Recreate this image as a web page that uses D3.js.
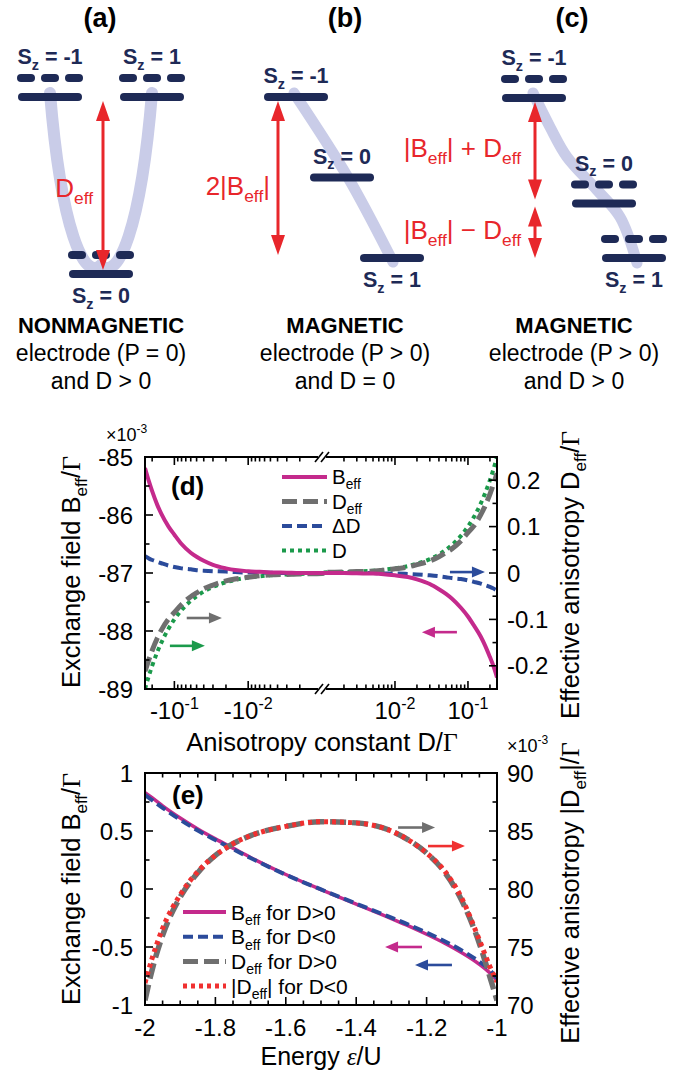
<!DOCTYPE html>
<html>
<head>
<meta charset="utf-8">
<script src="https://cdn.jsdelivr.net/npm/d3@7"></script>
<style>
  body { margin: 0; background: #fff; }
  svg { font-family: "Liberation Sans", Arial, Helvetica, sans-serif; }
</style>
</head>
<body>
<div id="fig"></div>
<script>
// ---------- schematic levels (energies in units of |B_eff|) ----------
const levelsA = [{ sz: -1, E: 1, split: true }, { sz: 1, E: 1, split: true }, { sz: 0, E: 0, split: true }];
const levelsB = [{ sz: -1, E: 2, split: false }, { sz: 0, E: 1, split: false }, { sz: 1, E: 0, split: false }];
const levelsC = [{ sz: -1, E: 2, split: true }, { sz: 0, E: 0.68, split: true }, { sz: 1, E: 0, split: true }];
const captionA = ['NONMAGNETIC', 'electrode (P = 0)', 'and D > 0'];
const captionB = ['MAGNETIC', 'electrode (P > 0)', 'and D = 0'];
const captionC = ['MAGNETIC', 'electrode (P > 0)', 'and D > 0'];

// ---------- panel (d): vs anisotropy constant D/Gamma ----------
const dAbs = [0.25, 0.22, 0.2, 0.17, 0.15, 0.12, 0.1, 0.08, 0.06, 0.05, 0.04, 0.03, 0.02, 0.015, 0.01, 0.007, 0.005, 0.003, 0.002, 0.001];
// D < 0 branch (left half), order of dAbs
const bEffNeg = [-85.19, -85.43, -85.59, -85.83, -85.98, -86.20, -86.34, -86.50, -86.65, -86.72, -86.79, -86.86, -86.92, -86.95, -86.97, -86.98, -86.99, -86.995, -87, -87];
const dEffNeg = [-0.212, -0.185, -0.167, -0.140, -0.123, -0.099, -0.085, -0.068, -0.051, -0.043, -0.034, -0.026, -0.017, -0.013, -0.009, -0.006, -0.004, -0.003, -0.002, -0.001];
const deltaDNeg = [0.036, 0.031, 0.028, 0.024, 0.021, 0.016, 0.013, 0.010, 0.008, 0.006, 0.005, 0.004, 0.003, 0.002, 0.001, 0.001, 0.0005, 0, 0, 0];
// D > 0 branch (right half), order of dAbs
const bEffPos = [-88.80, -88.58, -88.45, -88.24, -88.10, -87.90, -87.75, -87.60, -87.44, -87.36, -87.28, -87.19, -87.11, -87.07, -87.04, -87.02, -87.01, -87.005, -87, -87];
const dEffPos = [0.215, 0.188, 0.170, 0.143, 0.126, 0.101, 0.087, 0.069, 0.052, 0.044, 0.035, 0.026, 0.018, 0.013, 0.009, 0.006, 0.004, 0.003, 0.002, 0.001];
const deltaDPos = [-0.038, -0.033, -0.030, -0.026, -0.023, -0.019, -0.016, -0.013, -0.011, -0.009, -0.007, -0.005, -0.003, -0.002, -0.001, -0.001, 0, 0, 0, 0];
const xTickExpD = [-1, -2];          // decades labelled on each side
const yTicksLeftD = [-89, -88, -87, -86, -85];
const yTicksRightD = [-0.2, -0.1, 0, 0.1, 0.2];

// ---------- panel (e): vs energy eps/U ----------
const eps = [-2, -1.98, -1.95, -1.9, -1.85, -1.8, -1.75, -1.7, -1.6, -1.5, -1.4, -1.3, -1.25, -1.2, -1.15, -1.1, -1.05, -1.02, -1];
const bEffDpos = [0.83, 0.787, 0.717, 0.612, 0.517, 0.432, 0.352, 0.272, 0.125, -0.005, -0.13, -0.255, -0.32, -0.39, -0.465, -0.55, -0.65, -0.725, -0.79];
const bEffDneg = [0.81, 0.767, 0.700, 0.597, 0.504, 0.422, 0.344, 0.267, 0.123, -0.004, -0.126, -0.247, -0.309, -0.376, -0.448, -0.53, -0.627, -0.70, -0.77];
const dEffDpos = [70.4, 73.0, 76.0, 79.3, 81.4, 82.9, 83.9, 84.6, 85.4, 85.8, 85.7, 85.0, 84.2, 83.1, 81.5, 79.0, 75.3, 72.4, 70.4];   // x1e-3
const absDeffDneg = [71.9, 74.0, 76.6, 79.5, 81.5, 82.9, 83.9, 84.6, 85.4, 85.8, 85.7, 85.0, 84.2, 83.1, 81.6, 79.2, 75.6, 73.3, 72.0];
const xTicksE = [-2, -1.8, -1.6, -1.4, -1.2, -1];
const yTicksLeftE = [-1, -0.5, 0, 0.5, 1];
const yTicksRightE = [70, 75, 80, 85, 90];

// colours
const NAVY = '#1e2a56', RED = '#e8262b', LAV = '#c9cce8';
const MAG = '#c42a8c', GRAY = '#6f6f6f', BLUE = '#2b4b9b', GREEN = '#1b9a4b', DRED = '#f03030';
const TICK_FS = 24, TITLE_FS = 25.5;

const svg = d3.select('#fig').append('svg').attr('width', 680).attr('height', 1072);

// text with sub/superscripts: parts = [[text, flags], ...]
function rich(text, parts, fs) {
  let shift = 0;
  parts.forEach(p => {
    const f = p[1] || '';
    const ts = text.append('tspan').text(p[0]);
    const target = f.includes('sub') ? fs * 0.26 : f.includes('sup') ? -fs * 0.42 : 0;
    if (target !== shift) { ts.attr('dy', target - shift); shift = target; }
    if (f.includes('sub') || f.includes('sup')) ts.attr('font-size', fs * 0.67);
    if (f.includes('serif')) ts.attr('font-family', '"Liberation Serif", "DejaVu Serif", serif');
    if (f.includes('it')) ts.attr('font-style', 'italic');
  });
  return text;
}

function addText(g, x, y, parts, fs, opts = {}) {
  const t = g.append('text').attr('x', x).attr('y', y)
    .attr('font-size', fs)
    .attr('text-anchor', opts.anchor || 'start')
    .attr('fill', opts.fill || '#000')
    .attr('font-weight', opts.bold ? 'bold' : null);
  if (opts.transform) t.attr('transform', opts.transform).attr('x', 0).attr('y', 0);
  return rich(t, parts, fs);
}

// ---------- schematics (a)-(c) ----------
function drawLevels(g, levels, xs, ys) {
  levels.forEach(l => {
    const cx = xs(l.sz), y = ys(l.E);
    g.append('line').attr('x1', cx - 28).attr('x2', cx + 28).attr('y1', y).attr('y2', y)
      .attr('stroke', NAVY).attr('stroke-width', 8).attr('stroke-linecap', 'round');
    if (l.split) {
      [-24, 0, 24].forEach(o => {
        g.append('line').attr('x1', cx + o - 5).attr('x2', cx + o + 5).attr('y1', y - 19).attr('y2', y - 19)
          .attr('stroke', NAVY).attr('stroke-width', 8).attr('stroke-linecap', 'round');
      });
    }
    const top = l.split ? y - 19 : y;
    const ly = l.E === 0 ? y + 29 : top - 14;
    const lab = l.sz === -1 ? ' = -1' : l.sz === 1 ? ' = 1' : ' = 0';
    addText(g, cx, ly, [['S'], ['z', 'sub'], [lab]], 21.5, { anchor: 'middle', bold: true, fill: NAVY });
  });
}

function vArrow(g, x, y1, y2, color) {
  const hl = 20, hw = 7;
  g.append('line').attr('x1', x).attr('x2', x).attr('y1', y1 + hl - 2).attr('y2', y2 - hl + 2)
    .attr('stroke', color).attr('stroke-width', 3);
  g.append('path').attr('d', `M${x},${y1}L${x - hw},${y1 + hl}L${x + hw},${y1 + hl}Z`).attr('fill', color);
  g.append('path').attr('d', `M${x},${y2}L${x - hw},${y2 - hl}L${x + hw},${y2 - hl}Z`).attr('fill', color);
}

function caption(g, cx, lines) {
  lines.forEach((s, i) => {
    g.append('text').attr('x', cx).attr('y', 333 + i * 28).attr('text-anchor', 'middle')
      .attr('font-size', i === 0 ? 22 : 23).attr('font-weight', i === 0 ? 'bold' : null).text(s);
  });
}

const lavLine = d3.line().curve(d3.curveCatmullRom);

// (a)
{
  const g = svg.append('g');
  const xs = d3.scaleLinear().domain([-1, 1]).range([50, 152]);
  const ys = d3.scaleLinear().domain([0, 1]).range([274, 97]);
  g.append('path').attr('d', `M${xs(-1)},${ys(1) - 4} C${xs(-0.78)},${ys(0.25)} ${xs(-0.33)},${ys(0) + 8} ${xs(0)},${ys(0) - 9} C${xs(0.33)},${ys(0) + 8} ${xs(0.78)},${ys(0.25)} ${xs(1)},${ys(1) - 4}`)
    .attr('fill', 'none').attr('stroke', LAV).attr('stroke-width', 12).attr('stroke-linecap', 'round');
  drawLevels(g, levelsA, xs, ys);
  vArrow(g, xs(0) + 2, ys(1) + 4, ys(0) - 4, RED);
  addText(g, 93, 197, [['D'], ['eff', 'sub']], 26, { anchor: 'end', fill: RED });
  addText(g, 100, 27, [['(a)']], 27, { anchor: 'middle', bold: true });
  caption(g, 101, captionA);
}
// (b)
{
  const g = svg.append('g');
  const xs = d3.scaleLinear().domain([-1, 0, 1]).range([296, 342, 392]);
  const ys = d3.scaleLinear().domain([0, 2]).range([258, 97]);
  g.append('path').attr('d', lavLine([[xs(-1) - 2, ys(2) - 4], [xs(0) + 6, ys(1)], [xs(1) + 1, ys(0) + 4]]))
    .attr('fill', 'none').attr('stroke', LAV).attr('stroke-width', 11).attr('stroke-linecap', 'round');
  drawLevels(g, levelsB, xs, ys);
  vArrow(g, 278, ys(2) + 4, ys(0) - 3, RED);
  addText(g, 270, 195, [['2|B'], ['eff', 'sub'], ['|']], 26, { anchor: 'end', fill: RED });
  addText(g, 345, 27, [['(b)']], 27, { anchor: 'middle', bold: true });
  caption(g, 345, captionB);
}
// (c)
{
  const g = svg.append('g');
  const xs = d3.scaleLinear().domain([-1, 0, 1]).range([534, 604, 634]);
  const ys = d3.scaleLinear().domain([0, 2]).range([258, 98]);
  g.append('path').attr('d', lavLine([[533, ys(2) - 5], [550, 127], [567, 157], [597, 190], [620, 217], [637, ys(0) + 5]]))
    .attr('fill', 'none').attr('stroke', LAV).attr('stroke-width', 11).attr('stroke-linecap', 'round');
  drawLevels(g, levelsC, xs, ys);
  vArrow(g, xs(-1) + 1, ys(2) + 4, ys(0.68) - 4, RED);
  vArrow(g, xs(-1) + 1, ys(0.68) + 3, ys(0), RED);
  addText(g, 521, 157, [['|B'], ['eff', 'sub'], ['| + D'], ['eff', 'sub']], 26, { anchor: 'end', fill: RED });
  addText(g, 521, 239, [['|B'], ['eff', 'sub'], ['| \u2212 D'], ['eff', 'sub']], 26, { anchor: 'end', fill: RED });
  addText(g, 572, 27, [['(c)']], 27, { anchor: 'middle', bold: true });
  caption(g, 574, captionC);
}

// ---------- helpers for plots ----------
function frame(g, b) {
  g.append('rect').attr('x', b.l).attr('y', b.t).attr('width', b.r - b.l).attr('height', b.b - b.t)
    .attr('fill', 'none').attr('stroke', '#000').attr('stroke-width', 2);
}
function yTicks(g, b, scale, vals, side, len) {
  vals.forEach(v => {
    const y = scale(v);
    const x0 = side === 'left' ? b.l : b.r;
    const x1 = side === 'left' ? b.l + len : b.r - len;
    g.append('line').attr('x1', x0).attr('x2', x1).attr('y1', y).attr('y2', y).attr('stroke', '#000').attr('stroke-width', 1.6);
  });
}
function xTicks(g, b, scale, vals, len) {
  vals.forEach(v => {
    const x = scale(v);
    [[b.t, b.t + len], [b.b, b.b - len]].forEach(([a, c]) => {
      g.append('line').attr('x1', x).attr('x2', x).attr('y1', a).attr('y2', c).attr('stroke', '#000').attr('stroke-width', 1.6);
    });
  });
}
function hArrow(g, x1, x2, y, color) {
  const dir = Math.sign(x2 - x1), hl = 13, hw = 5.5;
  g.append('line').attr('x1', x1).attr('x2', x2 - dir * (hl - 2)).attr('y1', y).attr('y2', y)
    .attr('stroke', color).attr('stroke-width', 2.6);
  g.append('path').attr('d', `M${x2},${y}L${x2 - dir * hl},${y - hw}L${x2 - dir * hl},${y + hw}Z`).attr('fill', color);
}
function series(g, pts, style) {
  g.append('path').attr('d', d3.line().curve(d3.curveMonotoneX)(pts))
    .attr('fill', 'none').attr('stroke', style.color).attr('stroke-width', style.w)
    .attr('stroke-dasharray', style.dash || null).attr('stroke-linecap', style.cap || 'butt');
}
const fmt = v => String(v);

// ---------- panel (d) ----------
{
  const b = { l: 145, r: 497, t: 457, b: 689 }, mid = 322;
  const g = svg.append('g');
  const xNeg = d3.scaleLog().domain([0.25, 0.001]).range([b.l, mid]);
  const xPos = d3.scaleLog().domain([0.001, 0.25]).range([mid, b.r]);
  const yL = d3.scaleLinear().domain([-89, -85]).range([b.b, b.t]);
  const yR = d3.scaleLinear().domain([-0.25, 0.25]).range([b.b, b.t]);

  g.append('clipPath').attr('id', 'clipD').append('rect')
    .attr('x', b.l).attr('y', b.t).attr('width', b.r - b.l).attr('height', b.b - b.t);
  const pg = g.append('g').attr('clip-path', 'url(#clipD)');

  const idx = d3.range(dAbs.length);
  const idxR = idx.slice().reverse();
  const pts = (negVals, posVals, ys) =>
    idx.map(i => [xNeg(dAbs[i]), ys(negVals[i])]).concat(idxR.map(i => [xPos(dAbs[i]), ys(posVals[i])]));
  const dSigned = [dAbs.map(v => -v), dAbs];

  series(pg, pts(dSigned[0], dSigned[1], yR), { color: GREEN, w: 4, dash: '4,4' });
  series(pg, pts(deltaDNeg, deltaDPos, yR), { color: BLUE, w: 4, dash: '10,5' });
  series(pg, pts(dEffNeg, dEffPos, yR), { color: GRAY, w: 5, dash: '15,6' });
  series(pg, pts(bEffNeg, bEffPos, yL), { color: MAG, w: 4 });

  frame(g, b);
  // log ticks
  const negT = xNeg.ticks().filter(v => v < 0.25 && v > 0.001);
  const posT = xPos.ticks().filter(v => v < 0.25 && v > 0.001);
  const isMajor = v => Math.abs(Math.log10(v) - Math.round(Math.log10(v))) < 1e-6;
  xTicks(g, b, xNeg, negT.filter(isMajor), 8);
  xTicks(g, b, xNeg, negT.filter(v => !isMajor(v)), 4.5);
  xTicks(g, b, xPos, posT.filter(isMajor), 8);
  xTicks(g, b, xPos, posT.filter(v => !isMajor(v)), 4.5);
  yTicks(g, b, yL, d3.range(-89, -84.9, 1), 'left', 8);
  yTicks(g, b, yL, d3.range(-88.5, -85, 1), 'left', 4.5);
  yTicks(g, b, yR, d3.range(-0.2, 0.21, 0.1), 'right', 8);
  yTicks(g, b, yR, [-0.25, -0.15, -0.05, 0.05, 0.15], 'right', 4.5);

  // axis break
  [b.t, b.b].forEach(y => {
    g.append('rect').attr('x', mid - 4).attr('y', y - 4).attr('width', 8).attr('height', 8).attr('fill', '#fff');
    [-3, 3].forEach(o => g.append('line').attr('x1', mid + o - 4).attr('x2', mid + o + 4)
      .attr('y1', y + 5).attr('y2', y - 5).attr('stroke', '#000').attr('stroke-width', 1.6));
  });

  // tick labels
  yTicksLeftD.forEach(v => addText(g, 133, yL(v) + 8.5, [[fmt(v)]], TICK_FS, { anchor: 'end' }));
  yTicksRightD.forEach(v => addText(g, 507, yR(v) + 8.5, [[fmt(v)]], TICK_FS));
  xTickExpD.forEach(e => {
    addText(g, xNeg(Math.pow(10, e)), 719, [['-10'], [String(e), 'sup']], TICK_FS, { anchor: 'middle' });
    addText(g, xPos(Math.pow(10, e)), 719, [['10'], [String(e), 'sup']], TICK_FS, { anchor: 'middle' });
  });
  addText(g, 106, 441, [['\u00d710'], ['-3', 'sup']], 18);

  // axis titles
  addText(g, 0, 0, [['Exchange field B'], ['eff', 'sub'], ['/'], ['\u0393', 'serif']], TITLE_FS, { anchor: 'middle', transform: 'translate(80,572) rotate(-90)' });
  addText(g, 0, 0, [['Effective anisotropy D'], ['eff', 'sub'], ['/'], ['\u0393', 'serif']], TITLE_FS, { anchor: 'middle', transform: 'translate(579,575) rotate(-90)' });
  addText(g, 322, 751, [['Anisotropy constant D/'], ['\u0393', 'serif']], TITLE_FS, { anchor: 'middle' });
  addText(g, 171, 495, [['(d)']], 26, { bold: true });

  // legend
  const leg = [
    { parts: [['B'], ['eff', 'sub']], style: { color: MAG, w: 4 } },
    { parts: [['D'], ['eff', 'sub']], style: { color: GRAY, w: 5, dash: '15,6' } },
    { parts: [['\u0394D']], style: { color: BLUE, w: 4, dash: '10,5' } },
    { parts: [['D']], style: { color: GREEN, w: 4, dash: '4,4' } }
  ];
  leg.forEach((d, i) => {
    const y = 477 + i * 24.5;
    series(g, [[282, y], [327, y]], d.style);
    addText(g, 332, y + 7, d.parts, 20.5);
  });

  // direction arrows (data coordinates)
  hArrow(g, xNeg(0.068), xNeg(0.0227), yR(-0.097), GRAY);
  hArrow(g, xNeg(0.115), xNeg(0.0386), yR(-0.157), GREEN);
  hArrow(g, xPos(0.0566), xPos(0.171), yR(0.002), BLUE);
  hArrow(g, xPos(0.0706), xPos(0.0234), yL(-88.02), MAG);
}

// ---------- panel (e) ----------
{
  const b = { l: 145, r: 497, t: 773, b: 1005 };
  const g = svg.append('g');
  const x = d3.scaleLinear().domain([-2, -1]).range([b.l, b.r]);
  const yL = d3.scaleLinear().domain([-1, 1]).range([b.b, b.t]);
  const yR = d3.scaleLinear().domain([70, 90]).range([b.b, b.t]);

  g.append('clipPath').attr('id', 'clipE').append('rect')
    .attr('x', b.l).attr('y', b.t).attr('width', b.r - b.l).attr('height', b.b - b.t);
  const pg = g.append('g').attr('clip-path', 'url(#clipE)');
  const pts = (vals, ys) => eps.map((e, i) => [x(e), ys(vals[i])]);

  series(pg, pts(bEffDpos, yL), { color: MAG, w: 3.5 });
  series(pg, pts(bEffDneg, yL), { color: BLUE, w: 4, dash: '10,5' });
  series(pg, pts(dEffDpos, yR), { color: GRAY, w: 5.5, dash: '16,6' });
  series(pg, pts(absDeffDneg, yR), { color: DRED, w: 5, dash: '4,4' });

  frame(g, b);
  xTicks(g, b, x, xTicksE, 8);
  xTicks(g, b, x, d3.range(-1.95, -1.0, 0.05).filter(v => Math.abs(v * 5 - Math.round(v * 5)) > 1e-6), 4.5);
  yTicks(g, b, yL, yTicksLeftE, 'left', 8);
  yTicks(g, b, yL, [-0.75, -0.25, 0.25, 0.75], 'left', 4.5);
  yTicks(g, b, yR, yTicksRightE, 'right', 8);
  yTicks(g, b, yR, [72.5, 77.5, 82.5, 87.5], 'right', 4.5);

  yTicksLeftE.forEach(v => addText(g, 133, yL(v) + 8.5, [[fmt(v)]], TICK_FS, { anchor: 'end' }));
  yTicksRightE.forEach(v => addText(g, 507, yR(v) + 8.5, [[String(v)]], TICK_FS));
  xTicksE.forEach(v => addText(g, x(v), 1036, [[fmt(v)]], TICK_FS, { anchor: 'middle' }));
  addText(g, 507, 752, [['\u00d710'], ['-3', 'sup']], 18);

  addText(g, 0, 0, [['Exchange field B'], ['eff', 'sub'], ['/'], ['\u0393', 'serif']], TITLE_FS, { anchor: 'middle', transform: 'translate(80,889) rotate(-90)' });
  addText(g, 0, 0, [['Effective anisotropy |D'], ['eff', 'sub'], ['|/'], ['\u0393', 'serif']], TITLE_FS, { anchor: 'middle', transform: 'translate(579,893) rotate(-90)' });
  addText(g, 321, 1065, [['Energy '], ['\u03b5', 'serif it'], ['/U']], 25, { anchor: 'middle' });
  addText(g, 172, 804, [['(e)']], 26, { bold: true });

  const leg = [
    { parts: [['B'], ['eff', 'sub'], [' for D>0']], style: { color: MAG, w: 4 } },
    { parts: [['B'], ['eff', 'sub'], [' for D<0']], style: { color: BLUE, w: 4, dash: '10,5' } },
    { parts: [['D'], ['eff', 'sub'], [' for D>0']], style: { color: GRAY, w: 5, dash: '15,6' } },
    { parts: [['|D'], ['eff', 'sub'], ['| for D<0']], style: { color: DRED, w: 5, dash: '4,4' } }
  ];
  leg.forEach((d, i) => {
    const y = 912 + i * 24.7;
    series(g, [[183, y], [226, y]], d.style);
    addText(g, 231, y + 7.5, d.parts, 21);
  });

  hArrow(g, x(-1.281), x(-1.176), yR(85.3), GRAY);
  hArrow(g, x(-1.196), x(-1.091), yR(83.7), DRED);
  hArrow(g, x(-1.213), x(-1.318), yL(-0.5), MAG);
  hArrow(g, x(-1.128), x(-1.233), yL(-0.655), BLUE);
}
</script>
</body>
</html>
